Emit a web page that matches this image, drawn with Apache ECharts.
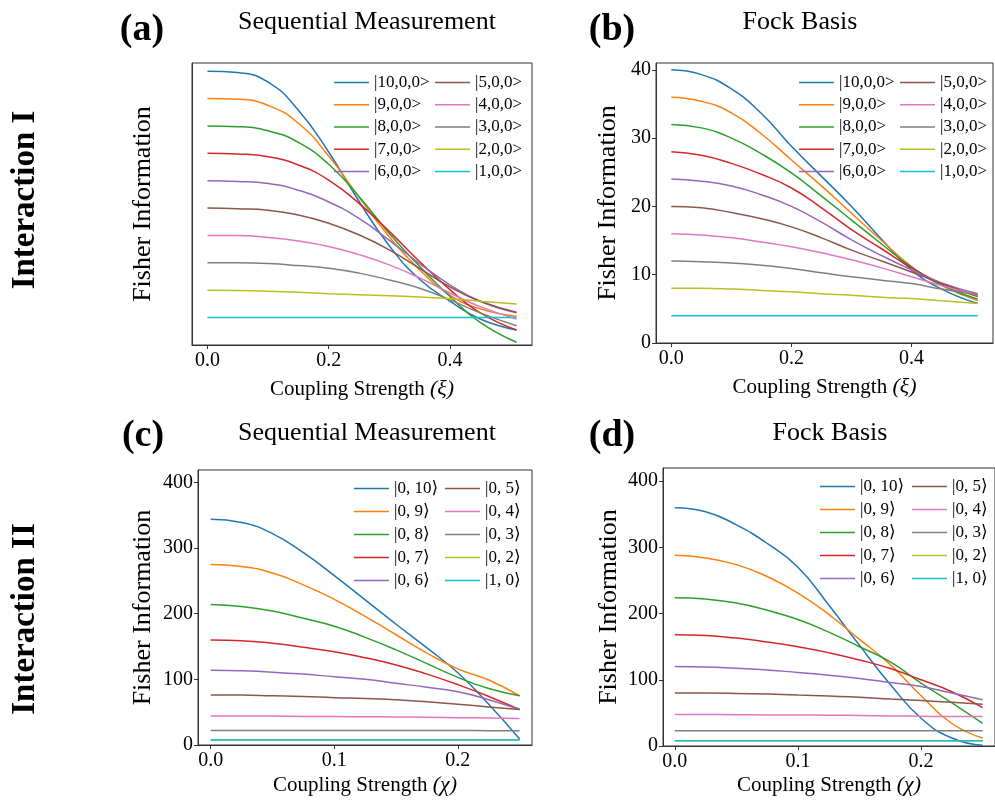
<!DOCTYPE html>
<html>
<head>
<meta charset="utf-8">
<script src="https://cdn.jsdelivr.net/npm/echarts@6/dist/echarts.min.js"></script>
<style>
html, body { margin: 0; background: #fff; }
#chart { width: 995px; height: 800px; }
</style>
</head>
<body>
<div id="chart"></div>
<script>
// coupling strength samples
const xsXi = [0, 0.05, 0.1, 0.15, 0.2, 0.25, 0.3, 0.35, 0.4, 0.45, 0.51]
const xsChi = [0, 0.025, 0.05, 0.075, 0.1, 0.125, 0.15, 0.175, 0.2, 0.225, 0.25]

const namesI = ['|10,0,0>', '|9,0,0>', '|8,0,0>', '|7,0,0>', '|6,0,0>',
  '|5,0,0>', '|4,0,0>', '|3,0,0>', '|2,0,0>', '|1,0,0>']
const namesII = ['|0, 10⟩', '|0, 9⟩', '|0, 8⟩', '|0, 7⟩', '|0, 6⟩',
  '|0, 5⟩', '|0, 4⟩', '|0, 3⟩', '|0, 2⟩', '|1, 0⟩']

const ticksXi = [0, 0.2, 0.4]
const ticksChi = [0, 0.1, 0.2]
const ticksFock = [0, 10, 20, 30, 40]
const ticksII = [0, 100, 200, 300, 400]

// (a) sequential measurement, interaction I
const seqI = [
  [40, 39.8, 38.4, 34.3, 28.2, 21.0, 14.5, 9.6, 6.4, 3.8, 2.2],
  [36, 35.9, 35.0, 32.4, 27.6, 21.6, 15.8, 11.0, 7.3, 5.3, 4.2],
  [32, 31.9, 31.3, 29.6, 26.4, 21.7, 16.3, 11.5, 7.1, 3.3, 0.4],
  [28, 27.9, 27.5, 26.3, 24.1, 20.7, 16.6, 12.2, 8.1, 4.7, 2.2],
  [24, 23.9, 23.6, 22.6, 20.9, 18.5, 15.3, 11.9, 8.8, 6.4, 4.7],
  [20, 19.9, 19.7, 19.0, 17.8, 16.1, 13.9, 11.2, 8.5, 6.4, 4.8],
  [16, 16, 15.7, 15.2, 14.4, 13.2, 11.7, 9.8, 7.6, 5.6, 3.8],
  [12, 12, 11.9, 11.6, 11.2, 10.5, 9.5, 8.3, 6.6, 4.7, 2.8],
  [8, 7.95, 7.85, 7.7, 7.5, 7.35, 7.2, 7.0, 6.75, 6.4, 6.0],
  [4, 4, 4, 4, 4, 4, 4, 4, 4, 4, 4]
]
// (b) fock basis, interaction I
const fockI = [
  [40, 39.3, 37.2, 33.6, 28.8, 24.4, 20.0, 15.2, 10.7, 7.9, 5.8],
  [36, 35.4, 33.7, 30.6, 26.8, 23.0, 19.0, 15.0, 11.2, 8.4, 6.2],
  [32, 31.5, 30.0, 27.7, 24.9, 21.5, 18.0, 14.5, 11.1, 8.5, 6.4],
  [28, 27.5, 26.3, 24.7, 22.7, 19.8, 16.6, 13.8, 11.0, 8.7, 6.8],
  [24, 23.7, 23.0, 21.7, 20.0, 17.7, 15.1, 12.8, 10.7, 8.8, 7.2],
  [20, 19.8, 19.1, 18.2, 17.0, 15.4, 13.6, 12.0, 10.4, 8.7, 6.9],
  [16, 15.8, 15.4, 14.8, 14.1, 13.2, 12.2, 11.0, 9.7, 8.4, 7.0],
  [12, 11.9, 11.7, 11.4, 10.9, 10.3, 9.7, 9.2, 8.7, 7.9, 7.1],
  [8, 8, 7.9, 7.7, 7.5, 7.2, 7.0, 6.7, 6.5, 6.2, 5.8],
  [4, 4, 4, 4, 4, 4, 4, 4, 4, 4, 4]
]
// (c) sequential measurement, interaction II
const seqII = [
  [344, 339, 322, 293, 258, 221, 184, 148, 110, 62, 9],
  [275, 272, 262, 244, 222, 196, 168, 140, 116, 99, 75],
  [214, 211, 204, 193, 181, 164, 145, 124, 103, 86, 75],
  [160, 159, 155, 149, 142, 133, 122, 108, 92, 74, 54],
  [114, 113, 111, 108, 104, 100, 94, 88, 81, 69, 54],
  [76, 76, 75, 74, 72, 71, 69, 66, 62, 58, 54],
  [44, 44, 44, 43.5, 43.3, 43, 42.7, 42.3, 41.7, 41, 40.2],
  [22, 22, 22, 22, 22, 22, 22, 22, 22, 21.8, 21.6],
  [8, 8, 8, 8, 8, 8, 8, 8, 8, 8, 8],
  [7.6, 7.6, 7.6, 7.6, 7.6, 7.6, 7.6, 7.6, 7.6, 7.6, 7.6]
]
// (d) fock basis, interaction II
const fockII = [
  [360, 354, 334, 306, 270, 213, 152, 93, 42, 12, 1],
  [288, 284, 274, 256, 231, 199, 161, 123, 76, 34, 12],
  [224, 222, 216, 205, 191, 172, 150, 127, 95, 65, 34],
  [168, 167, 163, 157, 150, 141, 130, 117, 100, 82, 58],
  [120, 119.5, 117.5, 115, 111, 107, 102, 96, 90, 80, 70],
  [80, 80, 79.5, 78.5, 77, 75.5, 73.7, 71, 68.6, 66, 63],
  [47.5, 47.5, 47.3, 47, 46.8, 46.5, 46, 45.5, 45, 44.5, 44.4],
  [23.2, 23.2, 23.2, 23.2, 23.2, 23.2, 23.2, 23.2, 23.2, 23.2, 23.2],
  [8, 8, 8, 8, 8, 8, 8, 8, 8, 8, 8],
  [8, 8, 8, 8, 8, 8, 8, 8, 8, 8, 8]
]

const colors = ['#1f77b4', '#ff7f0e', '#2ca02c', '#d62728', '#9467bd',
  '#8c564b', '#e377c2', '#7f7f7f', '#bcbd22', '#17becf']
const serif = '"Liberation Serif", "DejaVu Serif", serif'
const axisColor = '#333'

const myEcharts = echarts.init(document.getElementById('chart'), null, { renderer: 'canvas' })

const panels = [
  { xs: xsXi, rows: seqI, names: namesI },
  { xs: xsXi, rows: fockI, names: namesI },
  { xs: xsChi, rows: seqII, names: namesII },
  { xs: xsChi, rows: fockII, names: namesII }
]

const grids = [
  { left: 192, top: 63, width: 340, height: 282 },
  { left: 656, top: 63, width: 337, height: 280 },
  { left: 198, top: 470, width: 334, height: 275 },
  { left: 663, top: 468, width: 337, height: 278 }
].map((g) => ({ ...g, show: true, borderColor: axisColor, borderWidth: 1, backgroundColor: 'transparent' }))

const xName = (sym) => 'Coupling Strength {m|(' + sym + ')}'
const nameStyle = (size) => ({
  fontFamily: serif, fontSize: size, color: '#000',
  rich: { m: { fontFamily: serif, fontStyle: 'italic', fontSize: size + 1, color: '#000' } }
})

const makeX = (i, min, max, ticks, sym, gap) => ({
  type: 'value', gridIndex: i, min, max,
  name: xName(sym), nameLocation: 'middle', nameGap: gap, nameTextStyle: nameStyle(21),
  axisLine: { show: true, onZero: false, lineStyle: { color: axisColor, width: 1 } },
  axisTick: { show: true, customValues: ticks, length: 4, lineStyle: { color: axisColor } },
  axisLabel: { customValues: ticks, formatter: (v) => v.toFixed(1), fontFamily: serif, fontSize: 20, color: '#000', margin: 6 },
  splitLine: { show: false }
})

const makeY = (i, min, max, ticks, gap) => ({
  type: 'value', gridIndex: i, min, max,
  name: 'Fisher Information', nameLocation: 'middle', nameGap: gap,
  nameTextStyle: { fontFamily: serif, fontSize: 26, color: '#000' },
  axisLine: { show: true, onZero: false, lineStyle: { color: axisColor, width: 1 } },
  axisTick: { show: ticks.length > 0, customValues: ticks, length: 4, lineStyle: { color: axisColor } },
  axisLabel: { show: ticks.length > 0, customValues: ticks, fontFamily: serif, fontSize: 20, color: '#000', margin: 5 },
  splitLine: { show: false }
})

const xAxes = [
  makeX(0, -0.0255, 0.5355, ticksXi, 'ξ', 33),
  makeX(1, -0.0255, 0.5355, ticksXi, 'ξ', 33),
  makeX(2, -0.0103, 0.26, ticksChi, 'χ', 29),
  makeX(3, -0.0096, 0.26, ticksChi, 'χ', 28)
]
const yAxes = [
  makeY(0, 0, 41.2, [], 36),
  makeY(1, 0, 41, ticksFock, 35),
  makeY(2, 0, 419, ticksII, 42),
  makeY(3, 0, 420, ticksII, 41)
]

const series = []
panels.forEach((p, i) => {
  p.rows.forEach((row, k) => {
    series.push({
      type: 'line',
      name: p.names[k],
      xAxisIndex: i,
      yAxisIndex: i,
      data: row.map((v, j) => [p.xs[j], v]),
      symbol: 'none',
      smooth: 0.5,
      silent: true,
      lineStyle: { width: 1.5, color: colors[k] },
      itemStyle: { color: colors[k] }
    })
  })
})

const makeLegend = (data, left, top, gap) => ({
  data, left, top,
  orient: 'vertical',
  icon: 'rect',
  itemWidth: 35,
  itemHeight: 1.6,
  itemGap: gap,
  padding: 0,
  selectedMode: false,
  textStyle: { fontFamily: serif, fontSize: 17, lineHeight: 16, color: '#000' }
})

const legends = [
  makeLegend(namesI.slice(0, 5), 334, 74, 5.25),
  makeLegend(namesI.slice(5), 435, 74, 5.25),
  makeLegend(namesI.slice(0, 5), 799, 74, 5.25),
  makeLegend(namesI.slice(5), 900, 74, 5.25),
  makeLegend(namesII.slice(0, 5), 354, 480, 6),
  makeLegend(namesII.slice(5), 445, 480, 6),
  makeLegend(namesII.slice(0, 5), 820, 478, 6),
  makeLegend(namesII.slice(5), 912, 478, 6)
]

const txt = (text, x, y, font, rot) => ({
  type: 'text', x, y, rotation: rot || 0, silent: true,
  style: { text, font, fill: '#000', align: 'center', verticalAlign: 'middle' }
})

const graphic = [
  txt('(a)', 142, 30, 'bold 38px ' + serif),
  txt('(b)', 612, 30, 'bold 38px ' + serif),
  txt('(c)', 143, 436, 'bold 38px ' + serif),
  txt('(d)', 612, 436, 'bold 38px ' + serif),
  txt('Sequential Measurement', 367, 22, '26px ' + serif),
  txt('Fock Basis', 800, 22, '26px ' + serif),
  txt('Sequential Measurement', 367, 433, '26px ' + serif),
  txt('Fock Basis', 830, 433, '26px ' + serif),
  txt('Interaction I', 25, 200, 'bold 33px ' + serif, Math.PI / 2),
  txt('Interaction II', 25, 619, 'bold 33px ' + serif, Math.PI / 2)
]

const option = {
  animation: false,
  backgroundColor: '#fff',
  grid: grids,
  xAxis: xAxes,
  yAxis: yAxes,
  legend: legends,
  graphic,
  series
}
myEcharts.setOption(option)
</script>
</body>
</html>
